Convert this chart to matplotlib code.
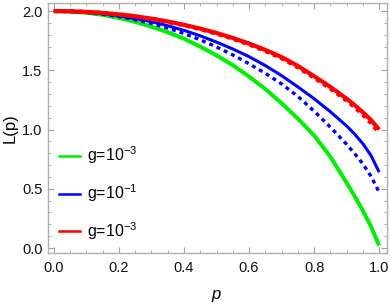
import numpy as np
import matplotlib.pyplot as plt
from matplotlib.lines import Line2D
from matplotlib.ticker import MultipleLocator

plt.rcParams['font.family'] = ['Liberation Sans', 'DejaVu Sans']
plt.rcParams['mathtext.fontset'] = 'custom'
plt.rcParams['mathtext.rm'] = 'Liberation Sans'
plt.rcParams['mathtext.it'] = 'Liberation Sans:italic'

# values
p = [0.0, 0.05, 0.1, 0.15, 0.2, 0.25, 0.3, 0.35, 0.4, 0.45, 0.5, 0.55, 0.6,
     0.65, 0.7, 0.75, 0.8, 0.85, 0.9, 0.925, 0.95, 0.975, 1.0]
L_green = [2.0, 1.996, 1.986, 1.968, 1.942, 1.909, 1.868, 1.821, 1.767, 1.699, 1.626, 1.543, 1.447,
           1.342, 1.222, 1.092, 0.95, 0.77, 0.55, 0.435, 0.315, 0.18, 0.02]
L_blue = [2.0, 1.997, 1.99, 1.977, 1.96, 1.937, 1.91, 1.876, 1.837, 1.791, 1.738, 1.68, 1.615,
          1.54, 1.455, 1.36, 1.26, 1.15, 1.03, 0.96, 0.88, 0.78, 0.64]
L_blue_dash = [2.0, 1.997, 1.988, 1.973, 1.953, 1.927, 1.895, 1.856, 1.81, 1.757, 1.697, 1.63, 1.555,
               1.475, 1.385, 1.28, 1.155, 1.02, 0.875, 0.795, 0.71, 0.605, 0.47]
L_red = [2.0, 1.998, 1.993, 1.984, 1.972, 1.956, 1.936, 1.912, 1.884, 1.852, 1.815, 1.773, 1.726,
         1.672, 1.612, 1.537, 1.45, 1.36, 1.26, 1.205, 1.145, 1.08, 1.0]
L_red_dash = [2.0, 1.998, 1.993, 1.984, 1.971, 1.955, 1.934, 1.909, 1.880, 1.847, 1.809, 1.766, 1.718,
              1.663, 1.602, 1.525, 1.437, 1.346, 1.245, 1.188, 1.125, 1.055, 0.97]
labels = [r'g=10$^{-3}$', r'g=10$^{-1}$', r'g=10$^{-3}$']

fig = plt.figure(figsize=(3.9, 3.08), dpi=100)
ax = fig.add_axes([48/390, 55/308, 339/390, 250/308])

ax.plot(p, L_green, color='#00ee00', lw=2.9, solid_capstyle='butt')
ax.plot(p, L_blue, color='#0000ff', lw=2.2, solid_capstyle='butt')
ax.plot(p, L_blue_dash, color='#0000ff', lw=2.4, linestyle=(0, (1.2, 1.2)))
ax.plot(p, L_red, color='#ff0000', lw=3.0, solid_capstyle='butt')
ax.plot(p, L_red_dash, color='#ff0000', lw=3.0, linestyle=(0, (1.0, 1.0)))

ax.set_xlim(-0.018, 1.024)
ax.set_ylim(-0.042, 2.068)

ax.xaxis.set_major_locator(MultipleLocator(0.2))
ax.xaxis.set_minor_locator(MultipleLocator(0.05))
ax.yaxis.set_major_locator(MultipleLocator(0.5))
ax.yaxis.set_minor_locator(MultipleLocator(0.1))
ax.tick_params(which='both', direction='in', top=True, right=True,
               color='#a0a0a0', labelsize=10.5, labelcolor='#111111')
ax.tick_params(which='major', length=4, width=0.8)
ax.tick_params(which='minor', length=2.2, width=0.6)
ax.tick_params(axis='y', pad=4)
ax.tick_params(axis='x', pad=6)
for s in ax.spines.values():
    s.set_color('#b0b0b0')
    s.set_linewidth(1.0)

ax.set_xlabel('p', fontsize=12, style='italic')
ax.set_ylabel('L(p)', fontsize=12)
ax.xaxis.set_label_coords((216-48)/339, -(287-253)/250)
ax.yaxis.set_label_coords(-(48-18)/339, (253-128)/250)

handles = [Line2D([], [], color=c, lw=1.8) for c in ['#00ee00', '#0000ff', '#ff0000']]
ax.legend(handles, labels, loc='lower left', bbox_to_anchor=(0.0, 0.0),
          frameon=False, fontsize=11.5, handlelength=1.3, handletextpad=0.45,
          labelspacing=1.0, borderaxespad=0.3)

fig.savefig('out.png', dpi=100)
